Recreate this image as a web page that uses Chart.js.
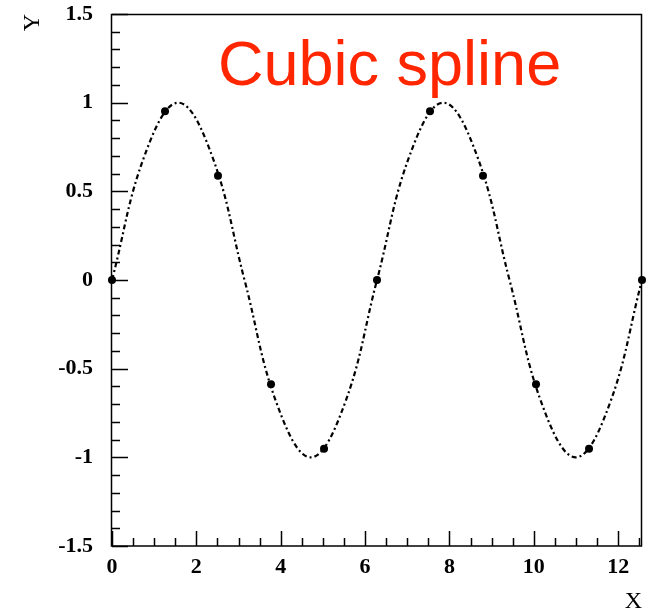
<!DOCTYPE html>
<html>
<head>
<meta charset="utf-8">
<script src="https://cdn.jsdelivr.net/npm/chart.js@4/dist/chart.umd.min.js"></script>
<style>
html,body{margin:0;padding:0;background:#fff;}
#wrap{width:646px;height:616px;position:relative;}
</style>
</head>
<body>
<div id="wrap"><canvas id="c" width="646" height="616"></canvas></div>
<script>
// Knots (markers)
const knotX = [0, 1.257, 2.513, 3.770, 5.027, 6.283, 7.540, 8.796, 10.053, 11.310, 12.566];
const knotY = [0, 0.951, 0.588, -0.588, -0.951, 0, 0.951, 0.588, -0.588, -0.951, 0];
// Spline curve readings from the picture
const curveX = [0, 0.785, 1.571, 2.356, 3.142, 3.927, 4.712, 5.498, 6.283, 7.069, 7.854, 8.639, 9.425, 10.210, 10.996, 11.781, 12.566];
const curveY = [0, 0.71, 1.00, 0.71, 0, -0.71, -1.00, -0.71, 0, 0.71, 1.00, 0.71, 0, -0.71, -1.00, -0.71, 0];
const xRange = [0, 12.566];
const yRange = [-1.5, 1.5];
const xMajorStep = 2, xMinorStep = 0.5;
const yMajorStep = 0.5, yMinorStep = 0.1;
const titleText = "Cubic spline";
const xTitle = "X";
const yTitle = "Y";

const knots = knotX.map((x, i) => ({x: x, y: knotY[i]}));
const curve = curveX.map((x, i) => ({x: x, y: curveY[i]}));

const framePlugin = {
  id: 'frame',
  afterDraw(chart) {
    const ctx = chart.ctx;
    const a = chart.chartArea;
    const xs = chart.scales.x, ys = chart.scales.y;
    ctx.save();
    ctx.strokeStyle = '#000';
    ctx.lineWidth = 1.5;
    ctx.beginPath();
    const nY = Math.round((yRange[1] - yRange[0]) / yMinorStep);
    for (let i = 0; i <= nY; i++) {
      const v = yRange[0] + i * yMinorStep;
      const major = Math.abs(v / yMajorStep - Math.round(v / yMajorStep)) < 1e-6;
      const py = Math.round(ys.getPixelForValue(v)) + 0.5;
      ctx.moveTo(a.left, py);
      ctx.lineTo(a.left + (major ? 16 : 8), py);
    }
    const nX = Math.floor((xRange[1] - xRange[0]) / xMinorStep + 1e-6);
    for (let i = 0; i <= nX; i++) {
      const v = xRange[0] + i * xMinorStep;
      const major = Math.abs(v / xMajorStep - Math.round(v / xMajorStep)) < 1e-6;
      const px = Math.round(xs.getPixelForValue(v)) + 0.5;
      ctx.moveTo(px, a.bottom);
      ctx.lineTo(px, a.bottom - (major ? 15 : 8));
    }
    ctx.stroke();
    ctx.strokeRect(Math.round(a.left) - 0.5, Math.round(a.top) + 0.5, Math.round(a.right - a.left), Math.round(a.bottom - a.top) - 0.5);
    ctx.fillStyle = 'rgb(255,38,0)';
    ctx.font = '63px "Liberation Sans", Arial, sans-serif';
    ctx.textAlign = 'left';
    ctx.textBaseline = 'alphabetic';
    ctx.fillText(titleText, 218, 85);
    ctx.restore();
  }
};

const fmt = v => String(Math.round(v * 10) / 10);

new Chart(document.getElementById('c'), {
  type: 'scatter',
  data: {
    datasets: [
      {
        data: curve,
        showLine: true,
        tension: 0.4,
        borderColor: '#000',
        borderWidth: 2.2,
        borderDash: [5, 3, 2, 3],
        pointRadius: 0,
        clip: false,
        fill: false
      },
      {
        data: knots,
        showLine: false,
        pointRadius: 4,
        pointBackgroundColor: '#000',
        pointBorderColor: '#000',
        pointBorderWidth: 0,
        clip: false
      }
    ]
  },
  options: {
    responsive: false,
    animation: false,
    layout: {padding: {top: 14, right: 2, left: 0, bottom: 0}},
    plugins: {legend: {display: false}, tooltip: {enabled: false}},
    scales: {
      x: {
        type: 'linear',
        min: xRange[0], max: xRange[1],
        grid: {display: false},
        border: {display: false},
        ticks: {
          stepSize: xMajorStep,
          includeBounds: false,
          padding: 0,
          color: '#000',
          maxRotation: 0,
          callback: fmt,
          font: {family: '"Liberation Serif", "Times New Roman", serif', size: 22, weight: 'bold'}
        },
        title: {
          display: true, text: xTitle, align: 'end', color: '#000',
          padding: {top: 0, bottom: 0},
          font: {family: '"Liberation Serif", "Times New Roman", serif', size: 24}
        },
        afterFit(s) { s.height = 70; s.paddingLeft = 0; s.paddingRight = 0; }
      },
      y: {
        type: 'linear',
        min: yRange[0], max: yRange[1],
        grid: {display: false},
        border: {display: false},
        ticks: {
          stepSize: yMajorStep,
          padding: 11,
          color: '#000',
          callback: fmt,
          font: {family: '"Liberation Serif", "Times New Roman", serif', size: 22, weight: 'bold'}
        },
        title: {
          display: true, text: yTitle, align: 'end', color: '#000',
          padding: {top: 18, bottom: 0},
          font: {family: '"Liberation Serif", "Times New Roman", serif', size: 24}
        },
        afterFit(s) { s.width = 112; s.paddingTop = 0; s.paddingBottom = 0; }
      }
    }
  },
  plugins: [framePlugin]
});
</script>
</body>
</html>
